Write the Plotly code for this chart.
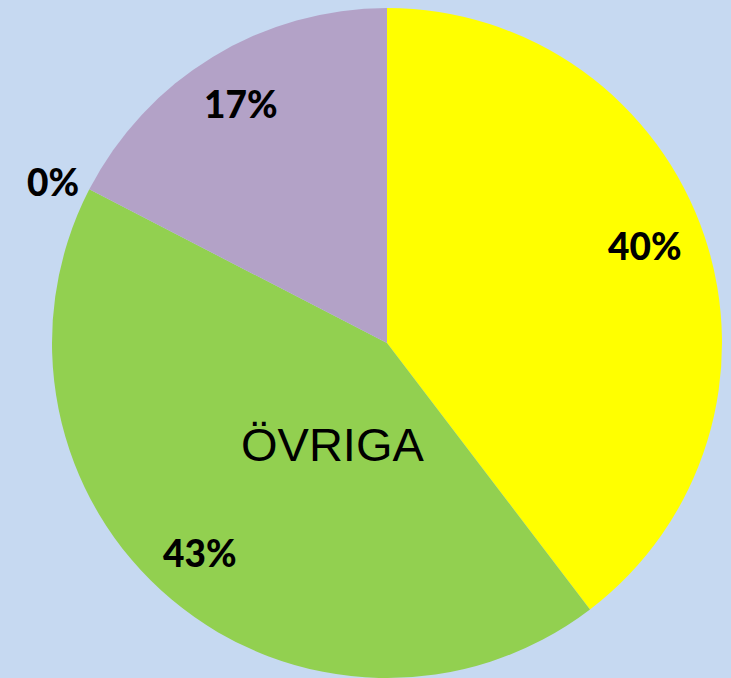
import math
import plotly.graph_objects as go

# Data
categories = ["Kategori 1", "ÖVRIGA", "Kategori 3", "Kategori 4"]
values = [39.6, 42.9, 0, 17.4]
colors = ["#FFFF00", "#92D050", "#C0504D", "#B3A2C7"]

W, H = 731, 678
CX, CY, R = 387, 343, 335  # pixel centre / radius of the pie
BG = "#C6D9F1"
# small per-label pixel nudges (layout only)
nudges = [(-2, -9), (-5, -3), (7, -8), (2, -2)]

total = sum(values)
pct_labels = ["%d%%" % round(v / total * 100) for v in values]

fig = go.Figure()
fig.add_trace(go.Pie(
    labels=categories,
    values=values,
    marker=dict(colors=colors, line=dict(width=0)),
    sort=False,
    direction="clockwise",
    rotation=0,
    textinfo="none",
    hoverinfo="label+percent",
    showlegend=False,
    domain=dict(x=[(CX - R) / W, (CX + R) / W], y=[(H - CY - R) / H, (H - CY + R) / H]),
))

annotations = []
cum = 0.0
for v, lab, (nx, ny) in zip(values, pct_labels, nudges):
    mid = (cum + v / 2) / total * 2 * math.pi
    cum += v
    if v == 0:
        rr, xa, dy = 1.04, "right", 6
    else:
        rr, xa, dy = 0.83, "center", 0
    px = CX + rr * R * math.sin(mid) - 3 + nx
    py = CY - rr * R * math.cos(mid) + dy + ny
    annotations.append(dict(
        x=px / W, y=1 - py / H, xref="paper", yref="paper",
        text=lab, showarrow=False, xanchor=xa, yanchor="middle",
        font=dict(family="Lato", size=37, color="#000000", weight=900),
    ))

annotations.append(dict(
    x=332 / W, y=1 - 444 / H, xref="paper", yref="paper",
    text="ÖVRIGA", showarrow=False, xanchor="center", yanchor="middle",
    font=dict(family="Liberation Sans", size=47, color="#000000"),
))

fig.update_layout(
    width=W, height=H,
    margin=dict(l=0, r=0, t=0, b=0),
    paper_bgcolor=BG,
    plot_bgcolor=BG,
    annotations=annotations,
)

fig.write_html(
    "out.html",
    config=dict(displayModeBar=False),
    post_script="document.body.style.margin='0';document.body.style.background='%s';" % BG,
)
